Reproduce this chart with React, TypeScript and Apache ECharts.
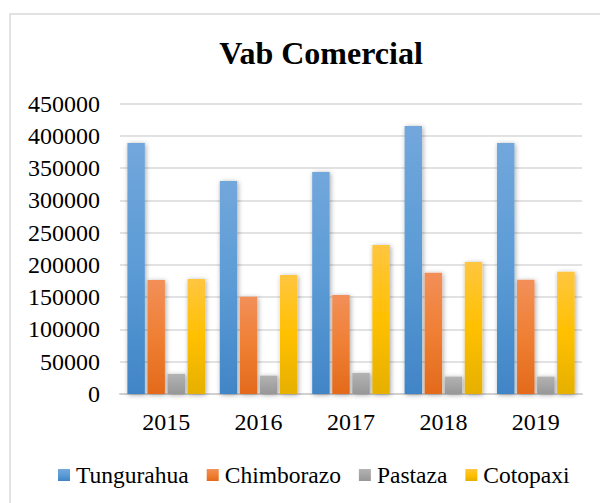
import React, { useEffect, useRef } from "react";
import * as echarts from "echarts";

const categories = ["2015", "2016", "2017", "2018", "2019"];
const tungurahua = [389000, 330000, 344000, 415000, 389000];
const chimborazo = [176500, 150500, 153500, 188000, 177000];
const pastaza = [31000, 28500, 32500, 27000, 27000];
const cotopaxi = [178000, 184500, 231000, 204500, 189500];
const seriesNames = ["Tungurahua", "Chimborazo", "Pastaza", "Cotopaxi"];
const yTicks = [0, 50000, 100000, 150000, 200000, 250000, 300000, 350000, 400000, 450000];

const FONT = "Liberation Serif";

const grad = (top: string, mid: string, bottom: string) =>
  new echarts.graphic.LinearGradient(0, 0, 0, 1, [
    { offset: 0, color: top },
    { offset: 0.5, color: mid },
    { offset: 1, color: bottom },
  ]);

export default function App() {
  const ref = useRef<HTMLDivElement>(null);
  useEffect(() => {
    if (!ref.current) return;
    const chart = echarts.init(ref.current, undefined, { renderer: "svg" });
    const colors = [
      grad("#72a7dc", "#5b9bd5", "#4185c7"),
      grad("#f28f59", "#ef7f33", "#e36a1c"),
      grad("#b3b3b3", "#a5a5a5", "#979797"),
      grad("#ffc640", "#ffc000", "#e6b000"),
    ];
    const data = [tungurahua, chimborazo, pastaza, cotopaxi];
    chart.setOption({
      animation: false,
      backgroundColor: "#ffffff",
      title: {
        text: "Vab Comercial",
        left: 316,
        textAlign: "center",
        top: 32,
        textStyle: { fontFamily: FONT, fontWeight: "bold", fontSize: 32, color: "#000" },
      },
      graphic: [
        {
          type: "rect",
          shape: { x: 10, y: 14, width: 620, height: 520 },
          style: { fill: "none", stroke: "#d9d9d9", lineWidth: 1.5 },
          silent: true,
        },
      ],
      legend: {
        data: seriesNames,
        left: 58,
        top: 463,
        padding: 0,
        itemWidth: 12,
        itemHeight: 12,
        itemGap: 18,
        icon: "rect",
        textStyle: { fontFamily: FONT, fontSize: 23.5, color: "#000", padding: [0, 0, 0, 1] },
      },
      grid: { left: 120, right: 18, top: 103.5, bottom: 109, containLabel: false },
      xAxis: {
        type: "category",
        data: categories,
        axisLine: { lineStyle: { color: "#d0d0d0", width: 2 } },
        axisTick: { show: false },
        axisLabel: { fontFamily: FONT, fontSize: 24, color: "#000", margin: 16 },
      },
      yAxis: {
        type: "value",
        min: yTicks[0],
        max: yTicks[yTicks.length - 1],
        interval: 50000,
        axisLine: { show: false },
        axisTick: { show: false },
        splitLine: { lineStyle: { color: "#d9d9d9", width: 1.5 } },
        axisLabel: {
          fontFamily: FONT,
          fontSize: 24,
          color: "#000",
          margin: 20,
          formatter: (v: number) => String(v),
        },
      },
      series: seriesNames.map((name, i) => ({
        name,
        type: "bar",
        data: data[i],
        barGap: "15%",
        barCategoryGap: "16%",
        itemStyle: {
          color: colors[i],
          shadowBlur: 5,
          shadowColor: "rgba(0,0,0,0.35)",
          shadowOffsetX: 1,
          shadowOffsetY: 1,
        },
      })),
    });
    return () => chart.dispose();
  }, []);
  return <div ref={ref} style={{ width: 600, height: 503, position: "absolute", left: 0, top: 0 }} />;
}
